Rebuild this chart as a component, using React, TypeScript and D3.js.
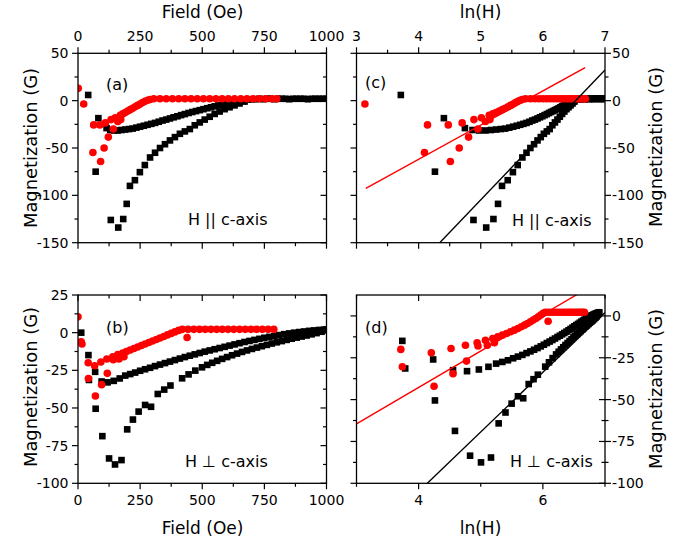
import React from "react";
import * as d3 from "d3";

// ---------- tick values ----------
const fieldMajor = [0, 250, 500, 750, 1000];
const fieldMinor = [125, 375, 625, 875];
const lnMajorTop = [3, 4, 5, 6, 7];
const lnMinorTop = [3.5, 4.5, 5.5, 6.5];
const lnMajorBottom = [4, 6];
const lnMinorBottom = [3, 5, 7];
const paraMajor = [-150, -100, -50, 0, 50];
const paraMinor = [-125, -75, -25, 25];
const perpMajorLeft = [-100, -75, -50, -25, 0, 25];
const perpMajorRight = [-100, -75, -50, -25, 0];
const perpMinor = [-87.5, -62.5, -37.5, -12.5, 12.5];

// ---------- H || c-axis (panels a, c) ----------
const paraBlackH = [
  41, 71, 82, 115,
  132, 162, 182, 196, 209, 229, 249, 269, 290, 310, 330, 350, 370, 390, 410, 430, 450, 470, 490, 510, 530, 550, 570, 590, 610, 630, 650, 670,
  130, 145, 160, 175, 190, 205, 220, 235, 250, 265, 280, 295, 310, 325, 340, 355, 370, 385, 400, 415, 430, 445, 460, 475, 490, 505, 520, 535, 550, 565, 580, 595, 610, 625, 640, 655, 670, 685,
  700, 715, 730, 745, 760, 775, 790, 805, 820, 835, 850, 865, 880, 895, 910, 925, 940, 955, 970, 985, 1000, 1015, 1030, 1045, 1060, 1075, 1090,
];
const paraBlackM = [
  6, -75, -18.5, -29,
  -126, -134, -125, -109, -90, -84, -75.5, -68, -60, -55, -50, -46, -42, -38.5, -35, -32.5, -30, -26, -23, -20, -17, -14, -11.5, -9, -7, -5, -3, -1,
  -31, -31.5, -31.5, -31, -30.5, -30, -29.5, -28.5, -27.5, -26.5, -25.5, -24.5, -23.5, -22.3, -21, -20, -18.8, -17.6, -16.5, -15.3, -14.2, -13, -12, -11, -10, -9, -8, -7, -6, -5, -4.2, -3.4, -2.6, -1.8, -1, -0.2, 0.5, 1.2,
  1.5, 1.5, 2, 1.5, 2, 2, 1.5, 2, 2, 2, 1.5, 2, 2, 2, 2, 1.5, 2, 2, 2, 2, 2, 2, 1.5, 2, 2, 2, 2,
];
const paraRedH = [
  1, 23, 60, 63, 88, 91, 105, 110, 122, 133, 142, 150, 160, 172, 170, 180, 190, 200, 210, 220, 230, 240, 250, 260, 270, 280, 290,
  305, 330, 355, 380, 405, 430, 455, 480, 505, 530, 555, 580, 605, 630, 655, 680, 705, 730, 755, 780, 800,
];
const paraRedM = [
  13, -3.5, -54.8, -25.6, -25.6, -64.3, -50, -23.5, -38.5, -20, -30, -18, -22, -20, -15.5, -14, -12.5, -11, -9.5, -8, -6.5, -5, -3.5, -2, -0.7, 0.5, 1.2,
  2, 2, 2, 2, 2, 2, 2, 2, 2, 2, 2, 2, 2, 2, 2, 2, 2, 2, 2, 2, 2,
];
const paraRedFitLn = [3.15, 6.68];
const paraRedFitM = [-92.6, 34.8];
const paraBlackFitLn = [4.34, 7.0];
const paraBlackFitM = [-150, 32.4];

// ---------- H ⊥ c-axis (panels b, d) ----------
const perpBlackH = [
  13, 42, 44, 69, 71, 95, 98,
  119, 144, 168, 190, 210, 230, 250, 270, 290, 310, 330, 350, 370, 390, 410, 430, 450, 470, 490, 510, 530, 550, 570, 590, 610, 630, 650, 670, 690, 710, 730, 750, 770, 790, 810, 830, 850, 870, 890, 910, 930, 950, 970, 990, 1000,
  125, 149, 175, 198, 221, 244, 270, 294, 321, 347, 372, 419, 445, 472, 499, 520, 540, 560, 580, 600, 620, 640, 660, 680, 700, 720, 740, 760, 780, 800, 820, 840, 860, 880, 900, 920, 940, 960, 980, 995,
];
const perpBlackM = [
  0, -14.9, -31.4, -26, -50.5, -32.4, -68.7,
  -33, -32, -30.4, -28.5, -27.5, -26.5, -25.3, -24.3, -23.3, -22.2, -21.2, -20.2, -19.2, -18.2, -17.2, -16.2, -15.3, -14.4, -13.5, -12.6, -11.8, -11, -10.2, -9.4, -8.6, -7.8, -7, -6.2, -5.5, -4.8, -4.1, -3.4, -2.8, -2.2, -1.6, -1, -0.5, 0, 0.4, 0.8, 1.2, 1.5, 1.8, 2, 2.2,
  -83.5, -87.5, -84.6, -64.2, -57.7, -52.4, -48, -49.2, -40.7, -37.8, -35.1, -30.3, -27.7, -25.2, -23, -21.4, -20, -18.7, -17.4, -16.2, -15, -13.9, -12.8, -11.8, -10.8, -9.9, -9, -8.1, -7.2, -6.4, -5.6, -4.8, -4, -3.3, -2.6, -1.9, -1.1, -0.3, 0.6, 1.6,
];
const perpRedH = [
  0, 13, 16, 41, 42, 67, 70, 92, 95, 116, 118, 140, 142, 165, 185,
  160, 180, 195, 210, 225, 240, 255, 270, 285, 300, 315, 330, 345, 360, 375, 390, 405,
  420, 443, 466, 489, 512, 535, 558, 581, 604, 627, 650, 673, 696, 719, 742, 765, 788, 439,
];
const perpRedM = [
  10.6, -6, -7.5, -20, -30.4, -22, -42, -19.5, -34.5, -17.5, -27, -16, -18, -17.5, -16,
  -14.5, -13.5, -12.5, -11.5, -10.5, -9.5, -8.5, -7.5, -6.5, -5.5, -4.5, -3.5, -2.5, -1.5, -0.5, 0.5, 1.5,
  2.2, 2.2, 2.2, 2.2, 2.2, 2.2, 2.2, 2.2, 2.2, 2.2, 2.2, 2.2, 2.2, 2.2, 2.2, 2.2, 2.2, -3.2,
];
const perpRedFitLn = [3.0, 7.0];
const perpRedFitM = [-64.5, 22.6];
const perpBlackFitLn = [4.14, 7.0];
const perpBlackFitM = [-100, 2];

// ---------- layout ----------
const FONT = "'DejaVu Sans', Verdana, sans-serif";
const RED = "#ff0000";
const colL = { x0: 78, x1: 326.5 };
const colR = { x0: 356.5, x1: 605 };
const rowT = { y0: 53.3, y1: 242.7 };
const rowB = { y0: 295, y1: 483.3 };

const xField = d3.scaleLinear().domain([0, 1000]).range([colL.x0, colL.x1]);
const xLn = d3.scaleLinear().domain([3, 7]).range([colR.x0, colR.x1]);
const yA = d3.scaleLinear().domain([-150, 50]).range([rowT.y1, rowT.y0]);
const yB = d3.scaleLinear().domain([-100, 25]).range([rowB.y1, rowB.y0]);
const yD = d3.scaleLinear().domain([-100, 12.5]).range([rowB.y1, rowB.y0]);

type Orient = "top" | "bottom" | "left" | "right";
type Dir = "in" | "out" | "both";

function Axis(props: {
  orient: Orient;
  pos: number;
  scale: d3.ScaleLinear<number, number>;
  major: number[];
  minor: number[];
  dir: Dir;
  labels?: boolean;
}) {
  const { orient, pos, scale, major, minor, dir, labels } = props;
  const out = orient === "top" || orient === "left" ? -1 : 1;
  const horiz = orient === "top" || orient === "bottom";
  const tick = (v: number, len: number, k: string) => {
    const a = dir === "in" || dir === "both" ? -out * len : 0;
    const b = dir === "out" || dir === "both" ? out * len : 0;
    const p = scale(v);
    return horiz ? (
      <line key={k} x1={p} x2={p} y1={pos + a} y2={pos + b} stroke="#000" strokeWidth={1.2} />
    ) : (
      <line key={k} x1={pos + a} x2={pos + b} y1={p} y2={p} stroke="#000" strokeWidth={1.2} />
    );
  };
  const fs = 14;
  return (
    <g>
      {major.map((v, i) => tick(v, 6, "M" + i))}
      {minor.map((v, i) => tick(v, 3.5, "m" + i))}
      {labels &&
        major.map((v, i) => {
          const p = scale(v);
          if (orient === "top")
            return <text key={"t" + i} x={p} y={pos - 12.3} textAnchor="middle" fontSize={fs} fontFamily={FONT}>{String(v)}</text>;
          if (orient === "bottom")
            return <text key={"t" + i} x={p} y={pos + 22} textAnchor="middle" fontSize={fs} fontFamily={FONT}>{String(v)}</text>;
          if (orient === "left")
            return <text key={"t" + i} x={pos - 9.5} y={p} dy="0.36em" textAnchor="end" fontSize={fs} fontFamily={FONT}>{String(v)}</text>;
          return <text key={"t" + i} x={pos + 7} y={p} dy="0.36em" textAnchor="start" fontSize={fs} fontFamily={FONT}>{String(v)}</text>;
        })}
    </g>
  );
}

function Points(props: {
  xs: number[];
  ys: number[];
  xScale: (v: number) => number;
  yScale: (v: number) => number;
  kind: "sq" | "ci";
  color: string;
}) {
  const { xs, ys, xScale, yScale, kind, color } = props;
  return (
    <g>
      {xs.map((x, i) => {
        if (!isFinite(x)) return null;
        const cx = xScale(x);
        const cy = yScale(ys[i]);
        return kind === "sq" ? (
          <rect key={i} x={cx - 3.3} y={cy - 3.3} width={6.6} height={6.6} fill={color} />
        ) : (
          <circle key={i} cx={cx} cy={cy} r={3.8} fill={color} />
        );
      })}
    </g>
  );
}

function FitLine(props: { xs: number[]; ys: number[]; yScale: (v: number) => number; color: string }) {
  const pts: [number, number][] = props.xs.map((x, i) => [xLn(x), props.yScale(props.ys[i])]);
  const d = d3.line()(pts) || "";
  return <path d={d} stroke={props.color} strokeWidth={1.4} fill="none" />;
}

const lnOf = (arr: number[]) => arr.map((h) => (h > 0 ? Math.log(h) : NaN));

export default function App() {
  const clip = (id: string, c: { x0: number; x1: number }, r: { y0: number; y1: number }) => (
    <clipPath id={id}>
      <rect x={c.x0} y={r.y0} width={c.x1 - c.x0} height={r.y1 - r.y0} />
    </clipPath>
  );
  const frame = (c: { x0: number; x1: number }, r: { y0: number; y1: number }) => (
    <rect x={c.x0} y={r.y0} width={c.x1 - c.x0} height={r.y1 - r.y0} fill="none" stroke="#000" strokeWidth={1.3} />
  );
  const paraBlackLn = lnOf(paraBlackH);
  const paraRedLn = lnOf(paraRedH);
  const perpBlackLn = lnOf(perpBlackH);
  const perpRedLn = lnOf(perpRedH);
  const vt = (x: number, y: number) => (
    <text transform={`translate(${x},${y}) rotate(-90)`} textAnchor="middle" fontSize={17} textLength={160} lengthAdjust="spacingAndGlyphs">
      Magnetization (G)
    </text>
  );
  return (
    <svg width={682} height={545} style={{ position: "absolute", left: 0, top: 0, background: "#fff" }}>
      <defs>
        {clip("cA", colL, rowT)}
        {clip("cC", colR, rowT)}
        {clip("cB", colL, rowB)}
        {clip("cD", colR, rowB)}
      </defs>

      {/* panel a */}
      <g clipPath="url(#cA)">
        <Points xs={paraBlackH} ys={paraBlackM} xScale={xField} yScale={yA} kind="sq" color="#000" />
        <Points xs={paraRedH} ys={paraRedM} xScale={xField} yScale={yA} kind="ci" color={RED} />
      </g>
      {frame(colL, rowT)}
      <Axis orient="top" pos={rowT.y0} scale={xField} major={fieldMajor} minor={fieldMinor} dir="out" labels />
      <Axis orient="bottom" pos={rowT.y1} scale={xField} major={fieldMajor} minor={fieldMinor} dir="out" />
      <Axis orient="left" pos={colL.x0} scale={yA} major={paraMajor} minor={paraMinor} dir="out" labels />
      <Axis orient="right" pos={colL.x1} scale={yA} major={paraMajor} minor={paraMinor} dir="in" />

      {/* panel c */}
      <g clipPath="url(#cC)">
        <Points xs={paraBlackLn} ys={paraBlackM} xScale={xLn} yScale={yA} kind="sq" color="#000" />
        <Points xs={paraRedLn} ys={paraRedM} xScale={xLn} yScale={yA} kind="ci" color={RED} />
        <FitLine xs={paraRedFitLn} ys={paraRedFitM} yScale={yA} color={RED} />
        <FitLine xs={paraBlackFitLn} ys={paraBlackFitM} yScale={yA} color="#000" />
      </g>
      {frame(colR, rowT)}
      <Axis orient="top" pos={rowT.y0} scale={xLn} major={lnMajorTop} minor={lnMinorTop} dir="out" labels />
      <Axis orient="bottom" pos={rowT.y1} scale={xLn} major={lnMajorTop} minor={lnMinorTop} dir="out" />
      <Axis orient="left" pos={colR.x0} scale={yA} major={paraMajor} minor={paraMinor} dir="out" />
      <Axis orient="right" pos={colR.x1} scale={yA} major={paraMajor} minor={paraMinor} dir="out" labels />

      {/* panel b */}
      <g clipPath="url(#cB)">
        <Points xs={perpBlackH} ys={perpBlackM} xScale={xField} yScale={yB} kind="sq" color="#000" />
        <Points xs={perpRedH} ys={perpRedM} xScale={xField} yScale={yB} kind="ci" color={RED} />
      </g>
      {frame(colL, rowB)}
      <Axis orient="top" pos={rowB.y0} scale={xField} major={fieldMajor} minor={fieldMinor} dir="in" />
      <Axis orient="bottom" pos={rowB.y1} scale={xField} major={fieldMajor} minor={fieldMinor} dir="out" labels />
      <Axis orient="left" pos={colL.x0} scale={yB} major={perpMajorLeft} minor={perpMinor} dir="out" labels />
      <Axis orient="right" pos={colL.x1} scale={yB} major={perpMajorLeft} minor={perpMinor} dir="in" />

      {/* panel d */}
      <g clipPath="url(#cD)">
        <Points xs={perpBlackLn} ys={perpBlackM} xScale={xLn} yScale={yD} kind="sq" color="#000" />
        <Points xs={perpRedLn} ys={perpRedM} xScale={xLn} yScale={yD} kind="ci" color={RED} />
        <FitLine xs={perpRedFitLn} ys={perpRedFitM} yScale={yD} color={RED} />
        <FitLine xs={perpBlackFitLn} ys={perpBlackFitM} yScale={yD} color="#000" />
      </g>
      {frame(colR, rowB)}
      <Axis orient="top" pos={rowB.y0} scale={xLn} major={lnMajorBottom} minor={lnMinorBottom} dir="in" />
      <Axis orient="bottom" pos={rowB.y1} scale={xLn} major={lnMajorBottom} minor={lnMinorBottom} dir="out" labels />
      <Axis orient="left" pos={colR.x0} scale={yD} major={perpMajorRight} minor={perpMinor.slice(0, 4)} dir="out" />
      <Axis orient="right" pos={colR.x1} scale={yD} major={perpMajorRight} minor={perpMinor.slice(0, 4)} dir="both" labels />

      {/* axis titles */}
      <g fontFamily={FONT} fill="#000">
        <text x={202.5} y={18} textAnchor="middle" fontSize={17}>Field (Oe)</text>
        <text x={480.5} y={18} textAnchor="middle" fontSize={17}>ln(H)</text>
        <text x={202.5} y={534} textAnchor="middle" fontSize={17}>Field (Oe)</text>
        <text x={480.5} y={534} textAnchor="middle" fontSize={17}>ln(H)</text>
        {vt(36.5, 148)}
        {vt(36.5, 387)}
        {vt(662, 147)}
        {vt(662, 389)}

        <text x={106} y={90} fontSize={16}>(a)</text>
        <text x={365} y={88} fontSize={16}>(c)</text>
        <text x={106} y={333} fontSize={16}>(b)</text>
        <text x={365} y={333} fontSize={16}>(d)</text>

        <text x={188} y={225} fontSize={16}>H || c-axis</text>
        <text x={512} y={226} fontSize={16}>H || c-axis</text>
        <text x={185} y={467} fontSize={16}>H ⊥ c-axis</text>
        <text x={510} y={467} fontSize={16}>H ⊥ c-axis</text>
      </g>
    </svg>
  );
}
